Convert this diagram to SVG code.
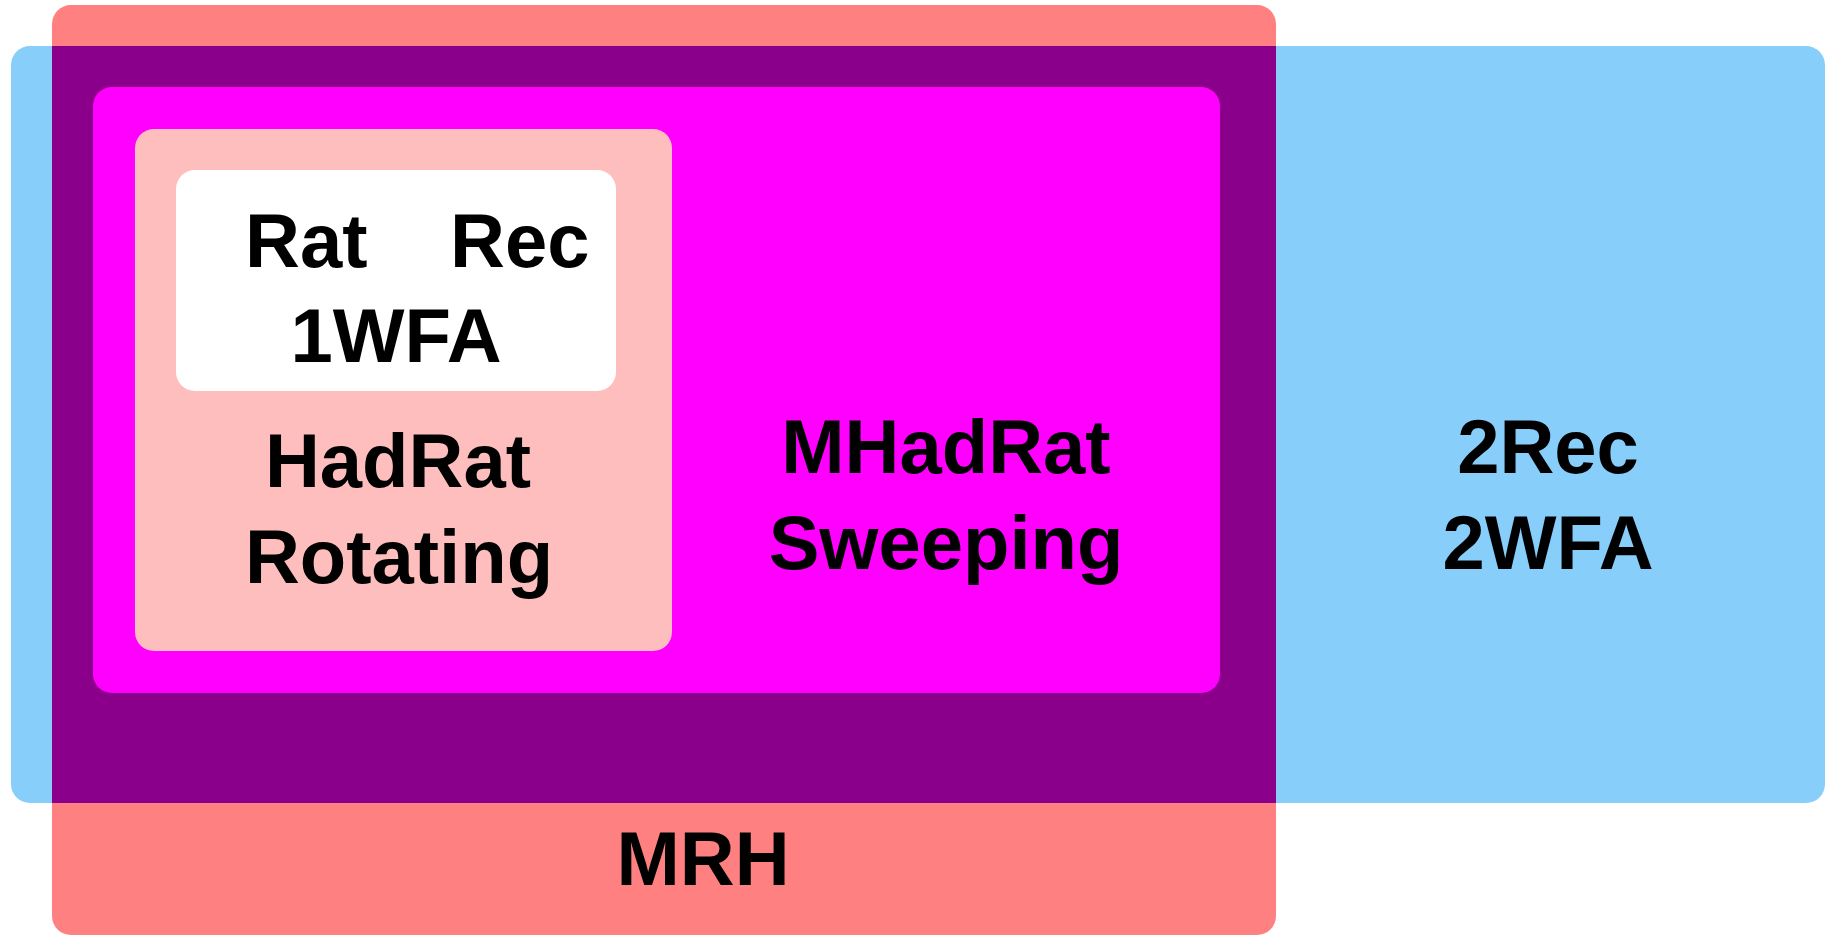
<svg xmlns="http://www.w3.org/2000/svg" width="1829" height="937" viewBox="0 0 1829 937">
<style>
text{font-family:"Liberation Sans",Arial,sans-serif;font-weight:bold;font-size:76px;fill:#000;}
.m{text-anchor:middle;}
</style>
<rect width="1829" height="937" fill="#fff"/>
<g id="MRH">
<rect x="52" y="5" width="1224" height="930" rx="19" fill="#FF8080"/>
</g>
<g id="TwoRec">
<rect x="11" y="46" width="1814" height="757" rx="19" fill="#87CEFA"/>
</g>
<g id="MRH_2Rec">
<rect x="52" y="46" width="1224" height="757" fill="#8B008B"/>
<text class="m" x="703" y="885">MRH</text>
<text class="m" x="1548" y="473">2Rec</text>
<text class="m" x="1548" y="569">2WFA</text>
</g>
<g id="MHadRat">
<rect x="93" y="87" width="1127" height="606" rx="19" fill="#FF00FF"/>
<text class="m" x="946" y="473">MHadRat</text>
<text class="m" x="946" y="569">Sweeping</text>
</g>
<g id="HadRat">
<rect x="135" y="129" width="537" height="522" rx="19" fill="#FFBEBE"/>
<text class="m" x="398" y="487">HadRat</text>
<text class="m" x="399" y="583">Rotating</text>
</g>
<g id="OneWFA">
<rect x="176" y="170" width="440" height="221" rx="19" fill="#FFFFFF"/>
<text x="245" y="267">Rat</text>
<text x="450" y="267">Rec</text>
<text class="m" x="396" y="362">1WFA</text>
</g>
<g id="connectors"/>
</svg>
